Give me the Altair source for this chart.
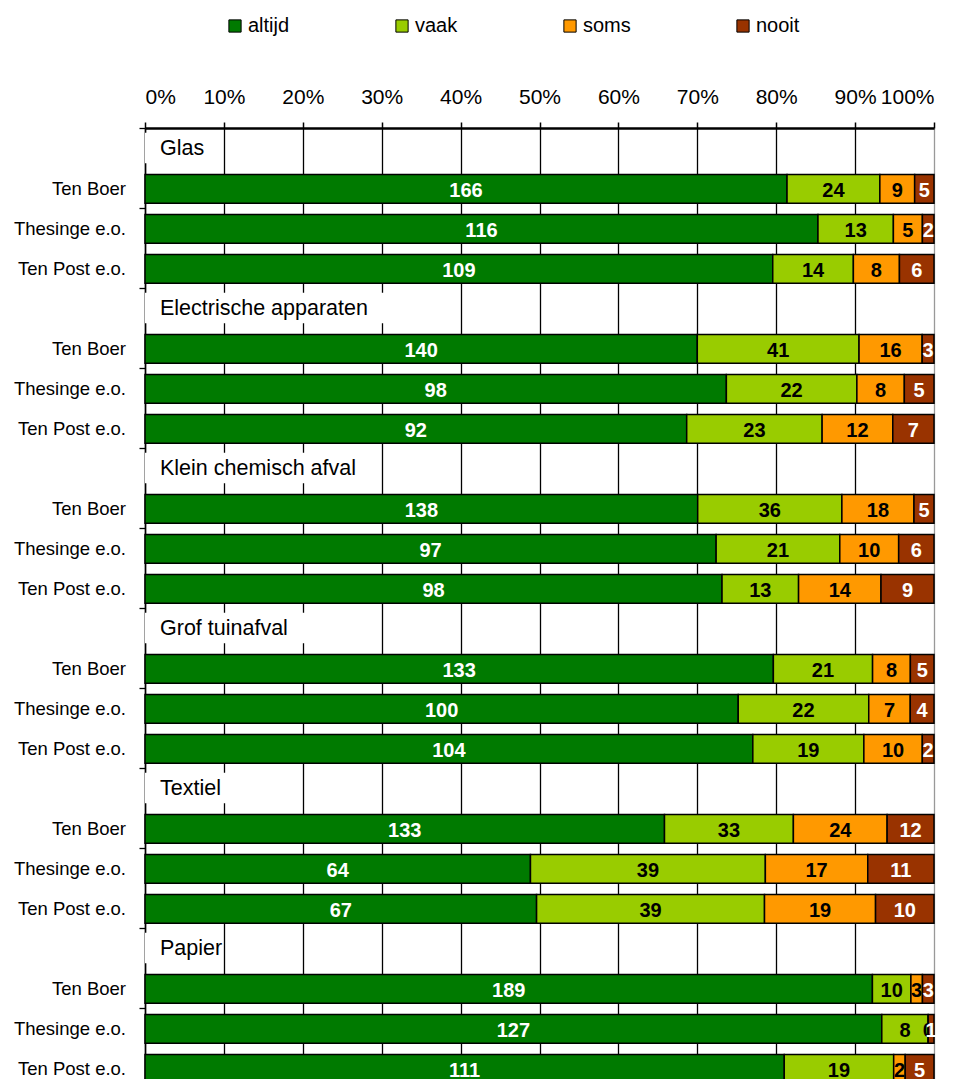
import altair as alt
import pandas as pd

groups = ["Glas", "Electrische apparaten", "Klein chemisch afval",
          "Grof tuinafval", "Textiel", "Papier"]
places = ["Ten Boer", "Thesinge e.o.", "Ten Post e.o."]
categories = ["altijd", "vaak", "soms", "nooit"]
colors = ["#007A00", "#99CC00", "#FF9900", "#993300"]
label_colors = ["white", "black", "black", "white"]

altijd = [166, 116, 109, 140, 98, 92, 138, 97, 98, 133, 100, 104, 133, 64, 67, 189, 127, 111]
vaak = [24, 13, 14, 41, 22, 23, 36, 21, 13, 21, 22, 19, 33, 39, 39, 10, 8, 19]
soms = [9, 5, 8, 16, 8, 12, 18, 10, 14, 8, 7, 10, 24, 17, 19, 3, 0, 2]
nooit = [5, 2, 6, 3, 5, 7, 5, 6, 9, 5, 4, 2, 12, 11, 10, 3, 1, 5]

# width (fraction of axis) of the white box behind each group heading
header_box = [0.085, 0.34, 0.29, 0.27, 0.125, 0.097]

FONT = "Liberation Sans, Arial, sans-serif"

seg_rows, lab_rows, head_rows = [], [], []
for g, gname in enumerate(groups):
    hr = 4 * g
    head_rows.append({"name": gname, "y": hr + 0.12, "y2": hr + 0.88,
                      "yc": hr + 0.5, "x": 0.0, "x2": header_box[g]})
    for p, pname in enumerate(places):
        i = 3 * g + p
        r = hr + 1 + p
        vals = [altijd[i], vaak[i], soms[i], nooit[i]]
        tot = sum(vals)
        cum = 0
        for c, v in enumerate(vals):
            seg_rows.append({"cat": categories[c], "x": cum / tot, "x2": (cum + v) / tot,
                             "xm": (cum + v / 2) / tot, "y": r + 0.16, "y2": r + 0.88,
                             "yc": r + 0.5, "val": v, "order": c})
            cum += v
        lab_rows.append({"place": pname, "yc": r + 0.5})

seg = pd.DataFrame(seg_rows)
labs = pd.DataFrame(lab_rows)
heads = pd.DataFrame(head_rows)

yscale = alt.Scale(domain=[0, 24], reverse=True, nice=False, zero=False)
xscale = alt.Scale(domain=[0, 1], nice=False)

xaxis = alt.Axis(orient="top", values=[i / 10 for i in range(11)], format=".0%",
                 title=None, labelFontSize=21, labelFont=FONT, labelColor="black",
                 labelPadding=15, tickSize=6, tickColor="black", tickWidth=1.5,
                 domainColor="black", domainWidth=2.5,
                 grid=True, gridColor={"condition": {"test": "datum.value >= 1", "value": "#999999"},
                                       "value": "black"},
                 gridWidth=1.3)
yaxis = alt.Axis(values=list(range(0, 25)), labels=False, title=None, tickSize=6,
                 tickColor="black", tickWidth=1.3, domainColor="black", domainWidth=1.5,
                 grid=False)

bars = alt.Chart(seg).mark_rect(stroke="black", strokeWidth=1.5).encode(
    x=alt.X("x:Q", scale=xscale, axis=xaxis),
    x2="x2:Q",
    y=alt.Y("y:Q", scale=yscale, axis=yaxis),
    y2="y2:Q",
    color=alt.Color("cat:N", scale=alt.Scale(domain=categories, range=colors),
                    sort=categories,
                    legend=alt.Legend(title=None, orient="none", direction="horizontal",
                                      columns=4, legendX=80, legendY=-112,
                                      symbolType="square", symbolSize=150,
                                      symbolStrokeColor="black", symbolStrokeWidth=1,
                                      symbolOpacity=1,
                                      labelFont=FONT, labelFontSize=20, labelColor="black",
                                      labelOffset=3, columnPadding=102)),
)

values = alt.Chart(seg).mark_text(font=FONT, fontSize=20, fontWeight="bold",
                                  baseline="middle", align="center", dy=3).encode(
    x=alt.X("xm:Q", scale=xscale),
    y=alt.Y("yc:Q", scale=yscale),
    text="val:Q",
    color=alt.Color("cat:N", scale=alt.Scale(domain=categories, range=label_colors),
                    legend=None),
)

boxes = alt.Chart(heads).mark_rect(fill="white", stroke=None).encode(
    x=alt.X("x:Q", scale=xscale), x2="x2:Q",
    y=alt.Y("y:Q", scale=yscale), y2="y2:Q",
)

head_text = alt.Chart(heads).mark_text(font=FONT, fontSize=21.5, align="left",
                                       baseline="middle", color="black", dy=1).encode(
    x=alt.value(15),
    y=alt.Y("yc:Q", scale=yscale),
    text="name:N",
)

row_text = alt.Chart(labs).mark_text(font=FONT, fontSize=18.5, align="right",
                                     baseline="middle", color="black", dy=1).encode(
    x=alt.value(-19),
    y=alt.Y("yc:Q", scale=yscale),
    text="place:N",
)

chart = alt.layer(boxes, bars, values, head_text, row_text).resolve_scale(
    color="independent"
).properties(
    width=789, height=960,
    autosize=alt.AutoSizeParams(type="none"),
    padding={"left": 137, "top": 120, "right": 27, "bottom": 0},
    background="white",
).configure_view(stroke=None)

chart.save("out.html", embed_options={"renderer": "svg", "actions": False})
